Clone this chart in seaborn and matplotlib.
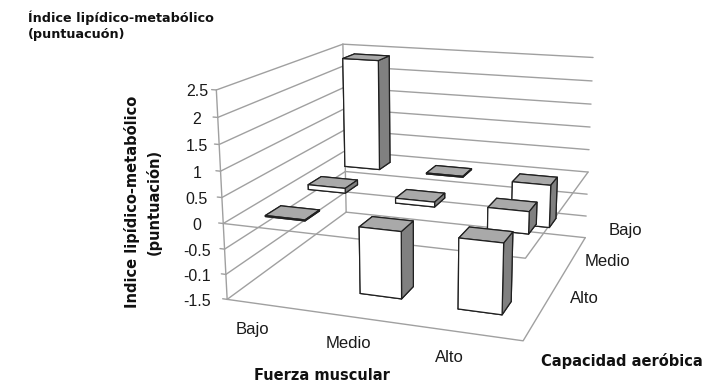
import matplotlib
matplotlib.use("Agg")
import matplotlib.pyplot as plt
import seaborn as sns
from mpl_toolkits.mplot3d import proj3d

# Categories
fuerza_labels = ["Bajo", "Medio", "Alto"]          # x axis, left to right
capacidad_labels = ["Alto", "Medio", "Bajo"]       # depth axis, front to back

# Índice lipídico-metabólico per capacidad aeróbica row, ordered by fuerza (Bajo, Medio, Alto)
indice_cap_alto = [0.02, -1.30, -1.35]
indice_cap_medio = [0.10, -0.10, -0.45]
indice_cap_bajo = [2.40, 0.02, -0.92]

z_ticks = [-1.5, -1.0, -0.5, 0.0, 0.5, 1.0, 1.5, 2.0, 2.5]
z_tick_labels = ["-1.5", "-0.1", "-0.5", "0", "0.5", "1", "1.5", "2", "2.5"]

sns.set_theme(style="white")
plt.rcParams["font.family"] = ["Liberation Sans", "DejaVu Sans"]

W, H = 710, 389
fig = plt.figure(figsize=(W / 100, H / 100), dpi=100)

# square 3D axes (pixel size S, centred at cx, cy from the top-left)
S, cx, cy = 440.0, 414.4, 177.6
ax = fig.add_axes([(cx - S / 2) / W, (H - cy - S / 2) / H, S / W, S / H], projection="3d")
ax.set_proj_type("persp", focal_length=0.448)
ax.view_init(elev=15.4, azim=-70.96)
ax.set_box_aspect((1.0, 1.0065, 0.7012), zoom=1.0)
zlo, zhi = z_ticks[0], z_ticks[-1]
nx, ny = len(fuerza_labels), len(capacidad_labels)
ax.set_xlim(0, nx)
ax.set_ylim(0, ny)
ax.set_zlim(zlo, zhi)
ax.set_axis_off()
ax.computed_zorder = False

grid_kw = dict(color="#a0a0a0", lw=1.0, zorder=1)

# walls: side wall (x = 0) and back wall (y = ny), with ticks on the value axis
for z in z_ticks:
    ax.plot([0, 0], [0, ny], [z, z], **grid_kw)
    ax.plot([0, nx], [ny, ny], [z, z], **grid_kw)
    ax.plot([-0.05, 0], [0, 0], [z, z], **grid_kw)
ax.plot([0, 0], [0, 0], [zlo, zhi], **grid_kw)
ax.plot([0, 0], [ny, ny], [zlo, zhi], **grid_kw)
# floor outline and zero plane outline
ax.plot([0, nx, nx], [0, 0, ny], [zlo, zlo, zlo], **grid_kw)
ax.plot([0, nx, nx], [0, 0, ny], [0, 0, 0], **grid_kw)

# bars
rows = [indice_cap_alto, indice_cap_medio, indice_cap_bajo]
bw, bd = 0.43, 0.34
xs, ys, zs, dzs = [], [], [], []
for j, row in enumerate(rows):
    for i, v in enumerate(row):
        xs.append(i + 0.5 - bw / 2)
        ys.append(j + 0.5 - bd / 2)
        zs.append(min(v, 0.0))
        dzs.append(abs(v))
# face order: bottom, top, front, back, left, right
faces = ["#ffffff", "#a9a9a9", "#ffffff", "#ffffff", "#ffffff", "#808080"]
ax.bar3d(xs, ys, zs, bw, bd, dzs, color=faces * len(xs), shade=False,
         edgecolor="#202020", linewidth=0.9, zorder=3)

fig.canvas.draw()


def to_fig(x, y, z, off_x=0.0, off_y=0.0):
    """Figure-fraction position of a 3D data point, shifted by a pixel offset (down = +)."""
    px, py, _ = proj3d.proj_transform(x, y, z, ax.get_proj())
    dx, dy = ax.transData.transform((px, py))
    return (dx + off_x) / W, (dy - off_y) / H


num_font = dict(family=["Liberation Sans", "DejaVu Sans"], size=11.5, color="#1a1a1a")
cat_font = dict(family=["Liberation Sans", "DejaVu Sans"], size=12, color="#1a1a1a")

for z, lab in zip(z_ticks, z_tick_labels):
    _, fy = to_fig(0, 0, z, 0, 2)
    fig.text(197 / W, fy, lab, ha="center", va="center", **num_font)
for i, lab in enumerate(fuerza_labels):
    fx, fy = to_fig(i + 0.5, 0, zlo, -20, 24)
    fig.text(fx, fy, lab, ha="center", va="center", **cat_font)
for j, lab in enumerate(capacidad_labels):
    fx, fy = to_fig(nx, j + 0.5, zlo, 49, -21)
    fig.text(fx, fy, lab, ha="center", va="center", **cat_font)

bold = dict(family=["DejaVu Sans"], weight="bold", color="#111111")
fig.text(322 / W, 1 - 376 / H, "Fuerza muscular", ha="center", va="center", size=10.5, **bold)
fig.text(622 / W, 1 - 361 / H, "Capacidad aeróbica", ha="center", va="center", size=10.5, **bold)
fig.text(143 / W, 1 - 202 / H, "Indice lipídico-metabólico\n(puntuación)", rotation=90,
         ha="center", va="center", multialignment="center", linespacing=1.4, size=10.5, **bold)
fig.text(28 / W, 1 - 26 / H, "Índice lipídico-metabólico\n(puntuacuón)", ha="left", va="center",
         linespacing=1.3, size=9.2, **bold)

fig.savefig("out.png", dpi=100, facecolor="white")
